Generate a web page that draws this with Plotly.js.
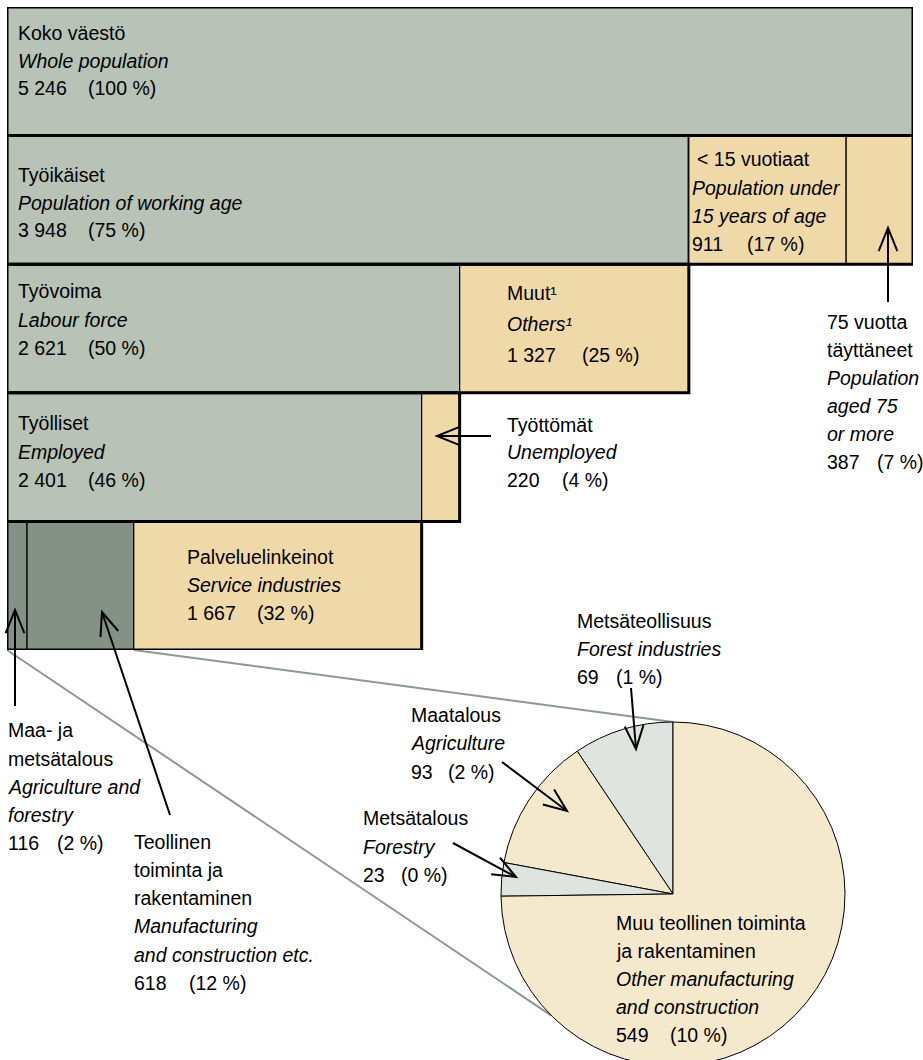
<!DOCTYPE html>
<html><head><meta charset="utf-8">
<script src="https://cdn.plot.ly/plotly-3.0.1.min.js"></script>
<style>html,body{margin:0;padding:0;background:#fff;overflow:hidden}#wrap{width:923px;height:1060px;overflow:hidden}</style>
</head><body><div id="wrap"><div id="chart" style="width:923px;height:1066px"></div></div>
<script>
// ---------------- data ----------------
// bar segments (row index, value, share of population)
const segRow   = [0, 1, 1, 1, 2, 2, 3, 3, 4, 4, 4];
const segValue = [5246, 3948, 911, 387, 2621, 1327, 2401, 220, 116, 618, 1667];
const segPct   = [100, 75, 17, 7, 50, 25, 46, 4, 2, 12, 32];
const segKind  = ['core','core','rest','rest','core','rest','core','rest','industry','industry','rest'];
const segFi = ['Koko väestö','Työikäiset','< 15 vuotiaat','75 vuotta|täyttäneet','Työvoima','Muut¹','Työlliset','Työttömät','Maa- ja|metsätalous','Teollinen|toiminta ja|rakentaminen','Palveluelinkeinot'];
const segEn = ['Whole population','Population of working age','Population under|15 years of age','Population|aged 75|or more','Labour force','Others¹','Employed','Unemployed','Agriculture and|forestry','Manufacturing|and construction etc.','Service industries'];

// pie: manufacturing + agriculture and forestry
const pieFi = ['Metsäteollisuus','Maatalous','Metsätalous','Muu teollinen toiminta|ja rakentaminen'];
const pieEn = ['Forest industries','Agriculture','Forestry','Other manufacturing|and construction'];
const pieValue = [69, 93, 23, 549];
const piePct   = [1, 2, 0, 10];
const pieKind  = ['grey','yellow','grey','yellow'];

// ---------------- layout helpers ----------------
const W = 923, H = 1066;
const PX0 = 7, PX1 = 913, PY0 = 7, PY1 = 650;
const FS = 19.5;
const FONT = '"Liberation Sans", Arial, Helvetica, sans-serif';
const fx = x => x / W;
const fy = y => 1 - y / H;
const COLORS = {core:'#b8c2b7', rest:'#f0d9a8', industry:'#849186', grey:'#dfe4e0', yellow:'#f5e9cd'};
const TOTAL = segValue[0];
const xPix = v => PX0 + v / TOTAL * (PX1 - PX0);

function fmt(v){ return String(v).replace(/\B(?=(\d{3})+(?!\d))/g, ' '); }

// stacking bases inside each row
const base = []; const rowSum = {};
segValue.forEach((v,i)=>{ const r = segRow[i]; base.push(rowSum[r]||0); rowSum[r] = (rowSum[r]||0) + v; });
const rowIdx = Object.keys(rowSum).map(Number);
const rowTotal = rowIdx.map(r => rowSum[r]);

const traces = [
  {type:'bar', orientation:'h', y:segRow, x:segValue, base:base, width:1,
   marker:{color:segKind.map(k=>COLORS[k]), line:{color:'#000', width:segRow.map((r,i)=> (r===1 && i===1) ? 2.5 : 1.2)}},
   hoverinfo:'skip', cliponaxis:false, showlegend:false},
  {type:'bar', orientation:'h', y:rowIdx, x:rowTotal, base:rowIdx.map(()=>0), width:1,
   marker:{color:'rgba(0,0,0,0)', line:{color:'#000', width:3}},
   hoverinfo:'skip', cliponaxis:false, showlegend:false},
];

// pie geometry (pixels)
const PCX = 673, PR = 172, PTOP = 722;
const PCY = PTOP + PR;
const pieSum = pieValue.reduce((a,b)=>a+b,0);
traces.push({type:'pie', values:pieValue, labels:pieEn, sort:false, direction:'counterclockwise',
  rotation: -pieValue[0]/pieSum*360,
  textinfo:'none', hoverinfo:'skip', showlegend:false,
  marker:{colors:pieKind.map(k=>COLORS[k]), line:{color:'#000', width:1}},
  domain:{x:[fx(PCX-PR), fx(PCX+PR)], y:[0, fy(PTOP)]}});

const shapes = [];
const ann = [];

// connector lines from the industry segments to the pie
const s45 = Math.SQRT1_2;
shapes.push({type:'line', layer:'below', xref:'paper', yref:'paper', x0:fx(xPix(0)), y0:fy(PY1), x1:fx(PCX - PR*s45), y1:fy(PCY + PR*s45), line:{color:'#8b998f', width:2}});
shapes.push({type:'line', layer:'below', xref:'paper', yref:'paper', x0:fx(xPix(pieSum)), y0:fy(PY1), x1:fx(PCX), y1:fy(PTOP), line:{color:'#8b998f', width:2}});

function arrow(t, h){
  const dx = h[0]-t[0], dy = h[1]-t[1]; const len = Math.hypot(dx,dy);
  const bx = -dx/len, by = -dy/len;
  const a = 22*Math.PI/180, L = 25;
  const rot = (ang)=>[h[0] + L*(bx*Math.cos(ang) - by*Math.sin(ang)), h[1] + L*(bx*Math.sin(ang) + by*Math.cos(ang))];
  const a1 = rot(a), a2 = rot(-a);
  shapes.push({type:'line', xref:'paper', yref:'paper', x0:fx(t[0]), y0:fy(t[1]), x1:fx(h[0]), y1:fy(h[1]), line:{color:'#000', width:2}});
  shapes.push({type:'path', xref:'paper', yref:'paper', path:`M${fx(a1[0])},${fy(a1[1])}L${fx(h[0])},${fy(h[1])}L${fx(a2[0])},${fy(a2[1])}`, line:{color:'#000', width:2}});
}
arrow([888,302],[888,228]);   // 75+
arrow([491,436],[437,436]);   // unemployed
arrow([15,706],[15,610]);     // agriculture and forestry
arrow([170,815],[102,612]);   // manufacturing
arrow([631,688],[636,749]);   // forest industries
arrow([502,762],[567,811]);   // agriculture
arrow([453,843],[516,877]);   // forestry

function textAnn(x, baseline, text){
  return {xref:'paper', yref:'paper', x:fx(x), y:fy(baseline - 0.3465*FS), xanchor:'left', yanchor:'middle',
    text:text, showarrow:false, borderpad:0, borderwidth:0, font:{family:FONT, size:FS, color:'#000'}};
}
function addLabel(fi, en, value, pct, L){
  const lines = [];
  fi.split('|').forEach(t=>lines.push({t:t, it:false}));
  en.split('|').forEach(t=>lines.push({t:t, it:true}));
  lines.forEach((ln,i)=>{
    ann.push(textAnn(L.x + (i===0 && L.ind ? L.ind : 0), L.b + i*L.p, ln.it ? '<i>'+ln.t+'</i>' : ln.t));
  });
  const nb = L.b + lines.length*L.p;
  ann.push(textAnn(L.x, nb, fmt(value)));
  ann.push(textAnn(L.x + L.o, nb, '(' + pct + ' %)'));
}
// label positions (pixels): left x, first baseline, line pitch, offset of the share
const segPos = [
  {x:18,  b:40,    p:27.6, o:70},
  {x:18,  b:182,   p:27.5, o:70},
  {x:692, b:166,   p:28.3, o:55, ind:5},
  {x:827, b:328.5, p:28,   o:50},
  {x:18,  b:298,   p:28.4, o:70},
  {x:507, b:300,   p:31,   o:75},
  {x:18,  b:430,   p:28.3, o:70},
  {x:507, b:431.7, p:27.5, o:55},
  {x:7.5, b:737,   p:28.3, o:49.5},
  {x:133.5, b:848.3, p:28.3, o:55},
  {x:187, b:563.3, p:28.3, o:70},
];
const piePos = [
  {x:577, b:627.3, p:28,   o:39},
  {x:411, b:721.7, p:28.3, o:37},
  {x:362.5, b:825, p:28.3, o:38},
  {x:616, b:930,   p:28,   o:54},
];
segValue.forEach((v,i)=>addLabel(segFi[i], segEn[i], v, segPct[i], segPos[i]));
pieValue.forEach((v,i)=>addLabel(pieFi[i], pieEn[i], v, piePct[i], piePos[i]));

const layout = {
  width:W, height:H, margin:{l:0, r:0, t:0, b:0},
  paper_bgcolor:'#ffffff', plot_bgcolor:'rgba(0,0,0,0)',
  barmode:'overlay', showlegend:false,
  xaxis:{domain:[fx(PX0), fx(PX1)], range:[0, TOTAL], visible:false, fixedrange:true},
  yaxis:{domain:[fy(PY1), fy(PY0)], range:[rowIdx.length-0.5, -0.5], visible:false, fixedrange:true},
  shapes:shapes, annotations:ann,
  font:{family:FONT, size:FS, color:'#000'}
};
Plotly.newPlot('chart', traces, layout, {staticPlot:true, displayModeBar:false});
</script></body></html>
